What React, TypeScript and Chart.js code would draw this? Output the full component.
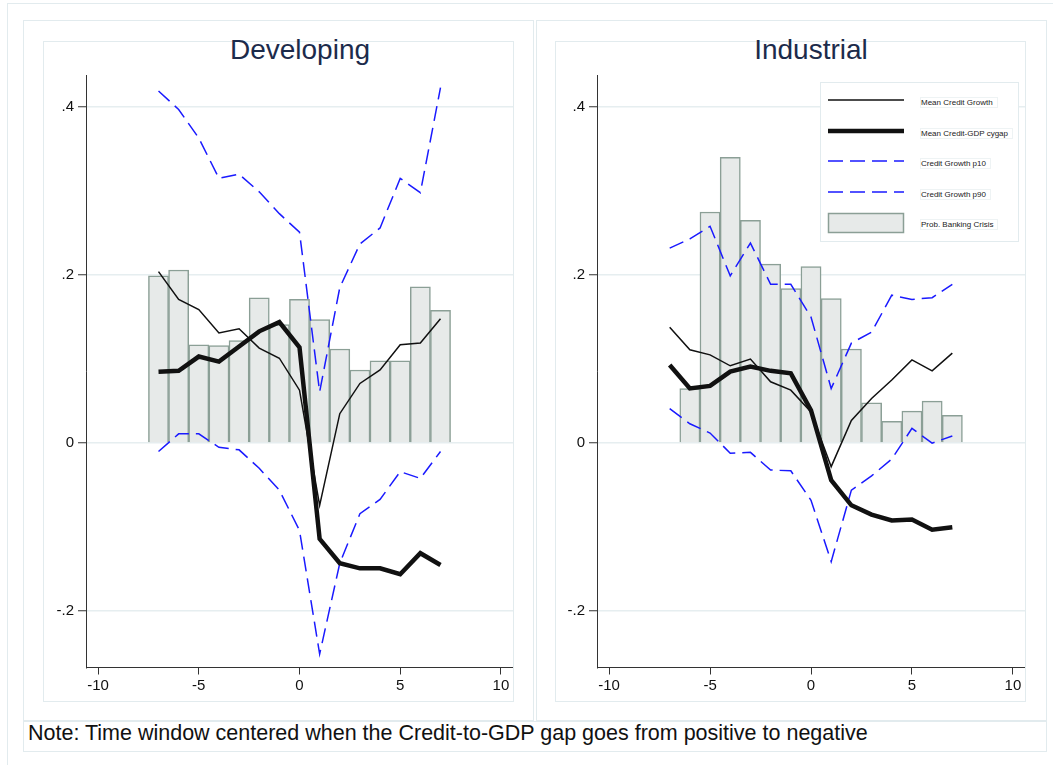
import React, { useEffect, useRef } from "react";
import { Chart, registerables } from "chart.js";

Chart.register(...registerables);

// ---------- data ----------
const periods = [-7, -6, -5, -4, -3, -2, -1, 0, 1, 2, 3, 4, 5, 6, 7];
const devBarPeriods = [-7, -6, -5, -4, -3, -2, -1, 0, 1, 2, 3, 4, 5, 6, 7];
const indBarPeriods = [-6, -5, -4, -3, -2, -1, 0, 1, 2, 3, 4, 5, 6, 7];

const devBankCrisis = [0.199, 0.206, 0.117, 0.116, 0.122, 0.173, 0.141, 0.171, 0.147, 0.112, 0.087, 0.098, 0.098, 0.186, 0.158];
const devCreditGrowth = [0.204, 0.171, 0.159, 0.131, 0.136, 0.113, 0.101, 0.063, -0.074, 0.035, 0.071, 0.087, 0.117, 0.119, 0.148];
const devCygap = [0.085, 0.086, 0.103, 0.097, 0.115, 0.133, 0.144, 0.114, -0.114, -0.143, -0.149, -0.149, -0.156, -0.131, -0.145];
const devP10 = [-0.01, 0.011, 0.011, -0.005, -0.008, -0.03, -0.056, -0.104, -0.251, -0.143, -0.084, -0.067, -0.034, -0.042, -0.01];
const devP90 = [0.419, 0.397, 0.363, 0.315, 0.32, 0.299, 0.273, 0.251, 0.061, 0.185, 0.237, 0.256, 0.315, 0.298, 0.423];

const indBankCrisis = [0.065, 0.275, 0.34, 0.265, 0.213, 0.184, 0.21, 0.172, 0.112, 0.048, 0.026, 0.038, 0.05, 0.033];
const indCreditGrowth = [0.138, 0.111, 0.105, 0.092, 0.1, 0.073, 0.063, 0.037, -0.028, 0.027, 0.053, 0.075, 0.099, 0.086, 0.107];
const indCygap = [0.093, 0.065, 0.068, 0.085, 0.091, 0.086, 0.083, 0.039, -0.044, -0.074, -0.085, -0.092, -0.091, -0.103, -0.1];
const indP10 = [0.041, 0.023, 0.012, -0.012, -0.011, -0.032, -0.033, -0.068, -0.141, -0.056, -0.039, -0.019, 0.0175, 0.0, 0.0085];
const indP90 = [0.232, 0.243, 0.258, 0.199, 0.238, 0.189, 0.189, 0.15, 0.065, 0.119, 0.132, 0.176, 0.171, 0.173, 0.189];

const xTicks = [-10, -5, 0, 5, 10];
const xTickLabels = ["-10", "-5", "0", "5", "10"];
const yTicks = [-0.2, 0, 0.2, 0.4];
const yTickLabels = ["-.2", "0", ".2", ".4"];

const panelTitles = ["Developing", "Industrial"];
const legendLabels = [
  "Mean Credit Growth",
  "Mean Credit-GDP cygap",
  "Credit Growth p10",
  "Credit Growth p90",
  "Prob. Banking Crisis",
];
const noteText = "Note: Time window centered when the Credit-to-GDP gap goes from positive to negative";

// ---------- styles ----------
const FONT = '"Liberation Sans", Arial, Helvetica, sans-serif';
const BLUE = "#1a1aff";
const BLACK = "#111111";
const BAR_FILL = "#e7eae9";
const BAR_BORDER = "#8b9f96";
const FRAME = "#e2ebee";
const GRID = "#e6eef0";
const AXIS = "#333333";
const TITLE_COLOR = "#1c2b4b";
const DASH = [15, 7];

function pts(xs: number[], ys: number[]) {
  return xs.map((x, i) => ({ x, y: ys[i] }));
}

type PanelData = {
  barX: number[];
  bars: number[];
  cg: number[];
  cy: number[];
  p10: number[];
  p90: number[];
  yAxisWidth: number;
};

function ChartCanvas({ d }: { d: PanelData }) {
  const ref = useRef<HTMLCanvasElement | null>(null);
  useEffect(() => {
    if (!ref.current) return;
    const chart = new Chart(ref.current, {
      type: "line",
      data: {
        datasets: [
          {
            type: "line",
            label: legendLabels[0],
            data: pts(periods, d.cg),
            borderColor: BLACK,
            borderWidth: 1.5,
            pointRadius: 0,
            tension: 0,
            fill: false,
            order: 1,
          },
          {
            type: "line",
            label: legendLabels[1],
            data: pts(periods, d.cy),
            borderColor: BLACK,
            borderWidth: 4.5,
            pointRadius: 0,
            tension: 0,
            fill: false,
            order: 0,
          },
          {
            type: "line",
            label: legendLabels[2],
            data: pts(periods, d.p10),
            borderColor: BLUE,
            borderWidth: 1.5,
            borderDash: DASH,
            pointRadius: 0,
            tension: 0,
            fill: false,
            order: 2,
          },
          {
            type: "line",
            label: legendLabels[3],
            data: pts(periods, d.p90),
            borderColor: BLUE,
            borderWidth: 1.5,
            borderDash: DASH,
            pointRadius: 0,
            tension: 0,
            fill: false,
            order: 3,
          },
          {
            type: "bar",
            label: legendLabels[4],
            data: pts(d.barX, d.bars),
            backgroundColor: BAR_FILL,
            borderColor: BAR_BORDER,
            borderWidth: 1.5,
            barPercentage: 1,
            categoryPercentage: 1,
            order: 10,
          } as any,
        ],
      },
      options: {
        animation: false,
        responsive: false,
        maintainAspectRatio: false,
        events: [],
        layout: { padding: { top: 15, right: 0, left: 0, bottom: 0 } },
        plugins: {
          legend: { display: false },
          tooltip: { enabled: false },
          title: { display: false },
        },
        scales: {
          x: {
            type: "linear",
            min: -10.6,
            max: 10.6,
            offset: false,
            afterBuildTicks: (s: any) => {
              s.ticks = xTicks.map((v) => ({ value: v }));
            },
            afterFit: (s: any) => {
              s.height = 33.5;
            },
            grid: {
              offset: false,
              drawOnChartArea: false,
              drawTicks: true,
              tickLength: 7,
              tickColor: AXIS,
              tickWidth: 1,
            },
            border: { display: true, color: AXIS, width: 1 },
            ticks: {
              autoSkip: false,
              maxRotation: 0,
              padding: 2,
              color: "#111",
              font: { family: FONT, size: 15 },
              callback: (_v: any, i: number) => xTickLabels[i],
            },
          },
          y: {
            type: "linear",
            min: -0.267,
            max: 0.438,
            afterBuildTicks: (s: any) => {
              s.ticks = yTicks.map((v) => ({ value: v }));
            },
            afterFit: (s: any) => {
              s.width = d.yAxisWidth;
            },
            grid: {
              offset: false,
              color: GRID,
              lineWidth: 1.5,
              drawTicks: true,
              tickLength: 8,
              tickColor: AXIS,
              tickWidth: 1,
            },
            border: { display: true, color: AXIS, width: 1 },
            ticks: {
              autoSkip: false,
              padding: 4,
              color: "#111",
              font: { family: FONT, size: 15 },
              callback: (_v: any, i: number) => yTickLabels[i],
            },
          },
        },
      } as any,
    });
    return () => chart.destroy();
  }, [d]);
  return <canvas ref={ref} width={470} height={641} style={{ display: "block", width: 470, height: 641 }} />;
}

const devData: PanelData = {
  barX: devBarPeriods,
  bars: devBankCrisis,
  cg: devCreditGrowth,
  cy: devCygap,
  p10: devP10,
  p90: devP90,
  yAxisWidth: 43,
};
const indData: PanelData = {
  barX: indBarPeriods,
  bars: indBankCrisis,
  cg: indCreditGrowth,
  cy: indCygap,
  p10: indP10,
  p90: indP90,
  yAxisWidth: 42,
};

function box(left: number, top: number, width: number, height: number, extra: any = {}) {
  return {
    position: "absolute" as const,
    left,
    top,
    width,
    height,
    boxSizing: "border-box" as const,
    border: `1px solid ${FRAME}`,
    ...extra,
  };
}

function Legend() {
  const rowsY = [100, 131, 161, 192, 223];
  const L = 820;
  const T = 82;
  return (
    <div style={box(L, T, 199, 160, { background: "#fff", zIndex: 2 })}>
      <svg width={199} height={160} style={{ position: "absolute", left: -1, top: -1 }}>
        <line x1={828 - L} x2={904 - L} y1={rowsY[0] - T} y2={rowsY[0] - T} stroke={BLACK} strokeWidth={1.5} />
        <line x1={828 - L} x2={904 - L} y1={rowsY[1] - T} y2={rowsY[1] - T} stroke={BLACK} strokeWidth={4.5} />
        <line x1={828 - L} x2={904 - L} y1={rowsY[2] - T} y2={rowsY[2] - T} stroke={BLUE} strokeWidth={1.5} strokeDasharray={DASH.join(" ")} />
        <line x1={828 - L} x2={904 - L} y1={rowsY[3] - T} y2={rowsY[3] - T} stroke={BLUE} strokeWidth={1.5} strokeDasharray={DASH.join(" ")} />
        <rect x={828.5 - L} y={213.5 - T} width={75} height={19} fill={BAR_FILL} stroke={BAR_BORDER} strokeWidth={1.5} />
      </svg>
      {legendLabels.map((t, i) => (
        <div
          key={t}
          style={{
            position: "absolute",
            left: 920 - L - 1,
            top: rowsY[i] - T - 4 + (i === 4 ? -1 : 0),
            font: `8px ${FONT}`,
            lineHeight: "9px",
            color: "#222",
            whiteSpace: "nowrap",
            border: `1px solid #eef3f4`,
            paddingRight: 4,
          }}
        >
          {t}
        </div>
      ))}
    </div>
  );
}

export default function App() {
  const titleStyle = (cx: number) => ({
    position: "absolute" as const,
    left: cx - 200,
    top: 34,
    width: 400,
    textAlign: "center" as const,
    font: `28px ${FONT}`,
    lineHeight: "32px",
    color: TITLE_COLOR,
  });
  return (
    <div
      style={{
        position: "absolute",
        left: 0,
        top: 0,
        width: 1053,
        height: 765,
        overflow: "hidden",
        background: "#fff",
        fontFamily: FONT,
      }}
    >
      {/* outer frame */}
      <div style={box(7, 3, 1200, 900)} />
      {/* panel frames */}
      <div style={box(23, 20, 511, 701)} />
      <div style={box(536, 20, 511, 701)} />
      {/* inner frames */}
      <div style={box(43, 41, 471, 661)} />
      <div style={box(555, 41, 471, 661)} />
      {/* note box */}
      <div style={box(23, 721, 1024, 31)} />

      {/* titles */}
      <div style={titleStyle(300)}>{panelTitles[0]}</div>
      <div style={titleStyle(811)}>{panelTitles[1]}</div>

      {/* charts */}
      <div style={{ position: "absolute", left: 43, top: 60 }}>
        <ChartCanvas d={devData} />
      </div>
      <div style={{ position: "absolute", left: 555, top: 60 }}>
        <ChartCanvas d={indData} />
      </div>

      <Legend />

      {/* note */}
      <div
        style={{
          position: "absolute",
          left: 28,
          top: 721,
          height: 31,
          lineHeight: "31px",
          font: `21.5px ${FONT}`,
          color: "#111",
          whiteSpace: "nowrap",
        }}
      >
        {noteText}
      </div>
    </div>
  );
}
